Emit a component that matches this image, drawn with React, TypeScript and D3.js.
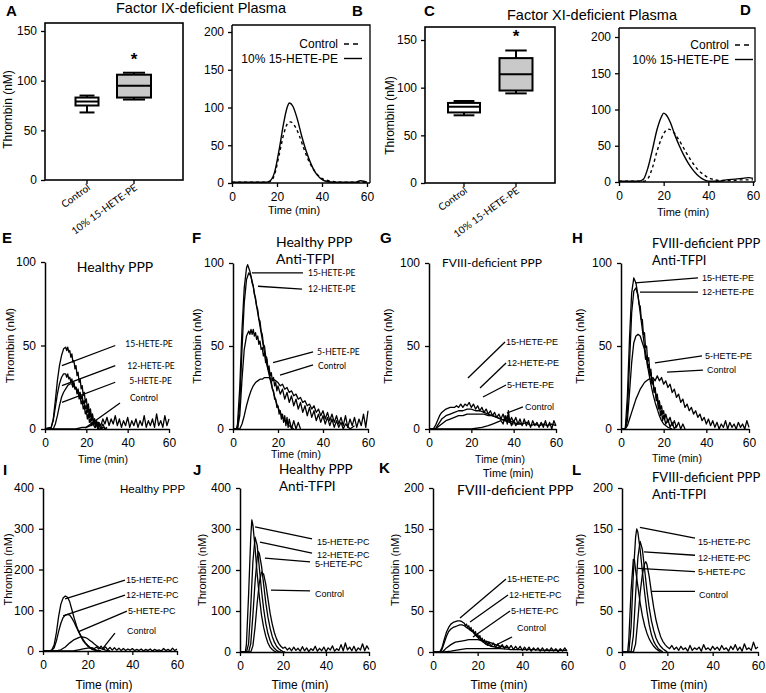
import { useEffect, useRef } from "react";
import * as d3 from "d3";

type Pt = [number, number];

const ARIAL = "'Liberation Sans', Arial, sans-serif";
const CAL = "Lato, 'Open Sans', sans-serif";

// ---------- data ----------
const timeTicks = [0, 20, 40, 60];
const ticks100 = [0, 50, 100];
const ticks150 = [0, 50, 100, 150];
const ticks200 = [0, 50, 100, 150, 200];
const ticks400 = [0, 100, 200, 300, 400];

const boxCategories = ["Control", "10% 15-HETE-PE"];
// [min, q1, median, q3, max] thrombin peak (nM)
const A_control = [68, 75, 79, 83, 85];
const A_hete = [81, 83, 95, 106, 108];
const C_control = [71, 74, 80, 84, 86];
const C_hete = [94, 97, 114, 131, 139];

const legendNames = ["Control", "10% 15-HETE-PE"];
const peNames = ["15-HETE-PE", "12-HETE-PE", "5-HETE-PE", "Control"];
const pcNames = ["15-HETE-PC", "12-HETE-PC", "5-HETE-PC", "Control"];

// B: factor IX-deficient plasma
const B_control: Pt[] = [[0,1],[15,1],[17,2],[19,12],[21,38],[23,65],[25,80],[26,81],[28,75],[30,62],[32,45],[34,30],[36,19],[38,11],[40,6],[42,4],[45,2],[50,1],[55,1],[60,1]];
const B_hete: Pt[] = [[0,1],[15,1],[17,3],[19,15],[21,45],[23,80],[24.5,100],[25.5,106],[27,102],[29,85],[31,62],[33,42],[35,26],[37,14],[39,7],[41,3],[45,1],[50,1],[55,1],[57,3],[59,2],[60,1]];
// D: factor XI-deficient plasma
const D_control: Pt[] = [[0,1],[11,1],[13,5],[15,20],[17,42],[19,60],[21,71],[22,73],[24,70],[26,62],[28,52],[30,41],[32,31],[34,22],[36,15],[38,10],[40,6],[43,3],[46,2],[50,2],[55,3],[60,3]];
const D_hete: Pt[] = [[0,1],[9,1],[11,4],[13,20],[15,45],[17,72],[19,90],[20,95],[21,93],[23,82],[25,65],[27,50],[29,37],[31,26],[33,17],[35,10],[37,5],[39,2],[41,1],[45,1],[48,3],[52,4],[55,5],[58,6],[60,5]];

// E: healthy PPP, HETE-PE
const E_15: Pt[] = [[0,0],[3,1],[4,6],[5,17],[6,29],[7,38],[8,44],[9,48],[10,49],[10.5,47],[11,49],[11.5,46],[12,47],[12.5,43],[13,45],[13.5,40],[14,41],[14.5,36],[15,38],[15.5,32],[16,34],[16.5,28],[17,30],[17.5,24],[18,26],[18.5,20],[19,22],[19.5,16],[20,18],[20.5,12],[21,15],[21.5,9],[22,12],[22.5,6],[23,9],[23.5,3],[24,6],[24.5,1],[25,4],[25.5,0],[26,3],[27,0],[28,1],[30,0]];
const E_12: Pt[] = [[0,0],[3,1],[4,5],[5,13],[6,21],[7,27],[8,31],[9,33],[10,33],[10.5,31],[11,33],[11.5,30],[12,31],[12.5,28],[13,30],[13.5,26],[14,28],[14.5,24],[15,25],[15.5,21],[16,23],[16.5,18],[17,20],[17.5,15],[18,17],[18.5,12],[19,14],[19.5,9],[20,11],[20.5,6],[21,9],[21.5,4],[22,6],[22.5,2],[23,4],[24,1],[25,3],[26,0],[28,0]];
const E_5: Pt[] = [[0,0],[4,0],[5,3],[6,8],[7,14],[8,19],[9,22],[10,24],[11,26],[12,27],[13,27],[13.5,25],[14,27],[14.5,24],[15,25],[15.5,22],[16,24],[16.5,20],[17,22],[17.5,18],[18,20],[18.5,15],[19,17],[19.5,12],[20,14],[20.5,10],[21,12],[21.5,7],[22,10],[22.5,5],[23,8],[23.5,3],[24,6],[24.5,2],[25,5],[25.5,1],[26,4],[27,0],[28,3],[29,0],[30,1]];
const E_control: Pt[] = [[0,0],[10,0],[15,0],[18,1],[20,1],[22,2],[24,3],[26,4],[27,2],[28,6],[29,3],[30,7],[31,2],[32,6],[33,3],[34,8],[35,2],[36,6],[37,1],[38,5],[39,2],[40,7],[41,1],[42,5],[43,2],[44,6],[45,1],[46,5],[47,2],[48,8],[49,1],[50,5],[51,2],[52,6],[53,1],[54,9],[55,2],[56,5],[57,1],[58,8],[59,2],[60,6]];

// F: healthy PPP + anti-TFPI, HETE-PE
const F_15: Pt[] = [[0,0],[1.5,0],[2,3],[3,25],[4,60],[5,85],[6,97],[6.5,99],[7,97],[7.5,95],[8,92],[8.5,88],[9,86],[9.5,81],[10,79],[10.5,74],[11,72],[11.5,66],[12,65],[12.5,59],[13,57],[13.5,51],[14,50],[14.5,44],[15,43],[15.5,37],[16,36],[16.5,30],[17,29],[17.5,24],[18,23],[18.5,18],[19,18],[19.5,13],[20,14],[20.5,9],[21,11],[21.5,6],[22,9],[22.5,4],[23,8],[23.5,2],[24,7],[24.5,1],[25,6],[26,0],[27,5],[28,0],[29,4],[30,0]];
const F_12: Pt[] = [[0,0],[2,0],[3,15],[4,48],[5,76],[6,90],[7,94],[8,92],[9,86],[10,78],[11,70],[12,62],[13,54],[14,46],[15,39],[16,33],[17,27],[18,22],[19,17],[20,13],[21,10],[22,7],[23,5],[25,2],[27,0]];
const F_5: Pt[] = [[0,0],[2,0],[3,8],[4,30],[5,48],[6,56],[7,59],[7.5,57],[8,60],[8.5,57],[9,60],[9.5,56],[10,58],[10.5,54],[11,56],[11.5,51],[12,53],[12.5,48],[13,49],[13.5,44],[14,46],[14.5,40],[15,42],[15.5,36],[16,38],[16.5,32],[17,34],[17.5,29],[18,31],[18.5,26],[19,28],[19.5,23],[20,26],[21,21],[22,24],[23,18],[24,22],[25,16],[26,20],[27,14],[28,18],[29,12],[30,16],[31,10],[32,14],[33,8],[34,13],[35,7],[36,11],[37,5],[38,9],[39,4],[40,8],[41,3],[42,7],[43,2],[44,6],[45,1],[46,5],[47,1],[48,4],[49,0],[50,3],[52,0],[54,2]];
const F_control: Pt[] = [[0,0],[3,0],[4,3],[5,8],[6,14],[7,19],[8,23],[9,26],[10,28],[11,29],[12,30],[13,30],[14,31],[15,31],[16,31],[17,30],[18,30],[19,29],[20,28],[21,26],[22,27],[23,24],[24,25],[25,22],[26,23],[27,20],[28,21],[29,18],[30,19],[31,16],[32,17],[33,14],[34,15],[35,12],[36,14],[37,10],[38,12],[39,8],[40,11],[41,6],[42,10],[43,5],[44,9],[45,4],[46,8],[47,3],[48,7],[49,2],[50,8],[51,1],[52,6],[53,2],[54,7],[55,1],[56,6],[57,2],[58,9],[59,1],[60,11]];

// G: FVIII-deficient PPP, HETE-PE
const G_15: Pt[] = [[0,0],[2,0],[3,2],[4,5],[5,8],[6,10],[7,11],[8,12],[10,13],[12,13],[13,14],[14,13],[15,15],[16,13],[17,15],[18,14],[19,16],[20,13],[21,15],[22,12],[23,14],[24,11],[25,13],[26,10],[27,12],[28,9],[29,11],[30,8],[31,10],[32,7],[33,9],[34,6],[35,9],[36,5],[37,8],[38,4],[39,7],[40,4],[41,7],[42,3],[43,6],[44,2],[45,6],[46,2],[47,5],[48,1],[49,5],[50,2],[51,4],[52,1],[53,4],[54,1],[55,5],[56,1],[57,4],[58,0],[59,5],[60,2]];
const G_12: Pt[] = [[0,0],[3,0],[4,2],[5,4],[6,6],[8,8],[10,9],[12,10],[14,11],[16,11],[18,12],[20,12],[22,11],[24,11],[26,10],[28,9],[30,8],[32,7],[34,6],[36,5],[38,4],[40,3]];
const G_5: Pt[] = [[0,0],[3,0],[4,1],[6,3],[8,5],[10,6],[12,7],[14,8],[16,8],[18,9],[20,9],[22,9],[24,9],[26,9],[28,8],[30,8],[32,7],[34,6],[36,5],[38,5],[40,4],[42,3],[44,3]];
const G_control: Pt[] = [[0,0],[10,0],[20,0],[25,1],[28,2],[30,3],[32,4],[34,5],[35,3],[36,8],[37,3],[37.5,11],[38,6],[39,2],[40,5],[41,2],[42,4],[44,3],[46,4],[48,2],[50,3],[52,2],[54,3],[56,2],[58,3],[60,2]];

// H: FVIII-deficient PPP + anti-TFPI, HETE-PE
const H_15: Pt[] = [[0,0],[2,0],[3,20],[4,55],[5,82],[6,91],[7,88],[8,80],[9,70],[10,60],[11,50],[12,42],[13,34],[14,27],[15,21],[16,16],[17,12],[18,8],[19,5],[20,3],[22,1],[24,0]];
const H_12: Pt[] = [[0,0],[2,0],[3,10],[4,40],[5,70],[6,83],[7,85],[8,80],[8.5,75],[9,74],[9.5,66],[10,66],[10.5,57],[11,58],[11.5,49],[12,50],[12.5,41],[13,43],[13.5,34],[14,36],[14.5,28],[15,30],[15.5,22],[16,24],[16.5,17],[17,19],[17.5,12],[18,15],[18.5,8],[19,11],[19.5,5],[20,8],[21,3],[22,6],[23,1],[24,4],[25,0],[26,2]];
const H_5: Pt[] = [[0,0],[2,0],[3,5],[4,22],[5,40],[6,52],[7,56],[8,57],[9,56],[10,52],[11,48],[11.5,42],[12,44],[12.5,37],[13,39],[13.5,32],[14,34],[14.5,27],[15,29],[15.5,23],[16,25],[16.5,19],[17,21],[17.5,15],[18,17],[18.5,12],[19,14],[19.5,9],[20,11],[20.5,6],[21,9],[22,4],[23,7],[24,2],[25,5],[26,1],[27,4],[28,0],[29,3],[30,0]];
const H_control: Pt[] = [[0,0],[2,0],[3,2],[4,6],[5,10],[6,14],[7,18],[8,21],[9,24],[10,26],[11,28],[12,29],[13,30],[14,30],[15,31],[16,29],[17,32],[18,29],[19,31],[20,27],[21,29],[22,25],[23,27],[24,22],[25,24],[26,19],[27,21],[28,16],[29,18],[30,13],[31,15],[32,11],[33,13],[34,9],[35,11],[36,7],[37,9],[38,5],[39,7],[40,3],[41,6],[42,2],[43,5],[44,1],[45,4],[46,0],[47,3],[48,1],[49,5],[50,0],[51,4],[52,1],[53,3],[54,0],[55,4],[56,1],[57,3],[58,0],[59,5],[60,1]];

// I: healthy PPP, HETE-PC
const I_15: Pt[] = [[0,0],[3,0],[4,3],[5,15],[6,45],[7,85],[8,115],[9,130],[10,135],[11,132],[12,120],[13,100],[14,80],[15,62],[16,47],[17,35],[18,25],[19,18],[20,12],[21,8],[22,4],[23,2],[25,0]];
const I_12: Pt[] = [[0,0],[3,0],[4,2],[5,8],[6,25],[7,48],[8,68],[9,82],[10,88],[11,90],[12,88],[13,80],[14,70],[15,58],[16,47],[17,37],[18,28],[19,20],[20,14],[21,9],[22,6],[24,2],[26,0]];
const I_5: Pt[] = [[0,0],[6,0],[8,3],[10,10],[12,20],[14,28],[16,33],[17,35],[18,34],[19,33],[20,30],[21,26],[22,22],[23,17],[24,13],[25,9],[26,6],[27,4],[28,2],[30,0]];
const I_control: Pt[] = [[0,0],[10,0],[14,1],[16,3],[18,5],[20,7],[22,8],[23,6],[24,10],[25,5],[26,12],[27,4],[28,10],[29,3],[30,9],[31,2],[32,8],[33,2],[34,7],[35,1],[36,6],[37,1],[38,5],[39,2],[40,6],[41,1],[42,4],[43,1],[44,5],[45,0],[46,4],[47,1],[48,5],[49,0],[50,4],[51,1],[52,3],[53,0],[54,6],[55,1],[56,4],[57,0],[58,7],[59,1],[60,5]];

// J: healthy PPP + anti-TFPI, HETE-PC
const J_15: Pt[] = [[0,0],[2.5,0],[3,20],[4,140],[5,280],[5.5,322],[6,310],[7,255],[8,190],[9,135],[10,90],[11,60],[12,38],[13,22],[14,12],[15,6],[16,2],[17,0]];
const J_12: Pt[] = [[0,0],[3,0],[4,20],[5,110],[6,220],[7,280],[8,260],[9,205],[10,150],[11,105],[12,70],[13,45],[14,28],[15,16],[16,9],[17,4],[18,1],[19,0]];
const J_5: Pt[] = [[0,0],[4,0],[5,20],[6,90],[7,170],[8,230],[8.5,245],[9,240],[10,210],[11,165],[12,120],[13,85],[14,58],[15,38],[16,24],[17,14],[18,8],[19,4],[20,1],[21,0]];
const J_control: Pt[] = [[0,0],[5,0],[6,15],[7,60],[8,120],[9,170],[10,195],[11,190],[12,165],[13,130],[14,95],[15,68],[16,47],[17,32],[18,21],[19,14],[20,9],[21,12],[22,5],[23,10],[24,3],[25,12],[26,4],[27,9],[28,2],[29,13],[30,3],[31,10],[32,1],[33,8],[34,4],[35,14],[36,2],[37,9],[38,3],[39,12],[40,1],[41,10],[42,5],[43,15],[44,2],[45,8],[46,4],[47,18],[48,3],[49,22],[50,5],[51,12],[52,3],[53,14],[54,2],[55,10],[56,5],[57,20],[58,3],[59,15],[60,6]];

// K: FVIII-deficient PPP, HETE-PC
const K_15: Pt[] = [[0,0],[3,0],[4,5],[5,15],[6,24],[7,30],[8,34],[9,36],[10,37],[11,38],[12,38],[13,37],[14,35],[14.5,32],[15,34],[15.5,30],[16,32],[16.5,27],[17,30],[17.5,25],[18,27],[18.5,22],[19,25],[19.5,19],[20,22],[20.5,17],[21,20],[21.5,14],[22,17],[22.5,12],[23,15],[23.5,10],[24,13],[24.5,8],[25,12],[26,7],[27,11],[28,6],[29,10],[30,5],[31,9],[32,4],[33,8],[34,4],[35,8],[36,3],[37,7],[38,3],[39,7],[40,2],[41,6],[42,2],[43,6],[44,1],[45,5],[46,2],[47,5],[48,1],[49,5],[50,1],[51,4],[52,1],[53,5],[54,1],[55,4],[56,0],[57,4],[58,1],[59,5],[60,1]];
const K_12: Pt[] = [[0,0],[3,0],[4,3],[5,11],[6,19],[7,25],[8,28],[9,30],[10,31],[11,32],[12,33],[13,33],[14,32],[15,30],[16,28],[17,26],[18,24],[19,21],[20,18],[21,15],[22,13],[23,11],[24,9],[25,8],[26,7],[28,6],[30,5]];
const K_5: Pt[] = [[0,0],[4,0],[5,2],[6,5],[8,9],[10,12],[12,13],[14,14],[16,15],[18,15],[20,15],[22,14],[24,13],[26,11],[28,9],[30,7],[32,6],[34,5]];
const K_control: Pt[] = [[0,0],[5,0],[8,1],[10,2],[12,3],[15,4],[20,4],[25,4],[30,4],[35,3],[40,3],[45,3],[50,2],[55,2],[60,2]];

// L: FVIII-deficient PPP + anti-TFPI, HETE-PC
const L_15: Pt[] = [[0,0],[3,0],[4,30],[5,95],[6,140],[6.5,150],[7,146],[8,125],[9,98],[10,72],[11,50],[12,33],[13,21],[14,13],[15,8],[16,4],[17,2],[18,0]];
const L_12: Pt[] = [[0,0],[4,0],[5,20],[6,70],[7,115],[8,135],[9,125],[10,100],[11,75],[12,54],[13,38],[14,26],[15,17],[16,11],[17,7],[18,4],[19,2],[20,0]];
const L_5: Pt[] = [[0,0],[2.5,0],[3,15],[4,75],[5,113],[5.5,112],[6,100],[7,80],[8,60],[9,44],[10,32],[11,23],[12,16],[13,11],[14,7],[15,4],[16,2],[17,0]];
const L_control: Pt[] = [[0,0],[5,0],[6,10],[7,40],[8,72],[9,95],[10,108],[10.5,110],[11,107],[12,92],[13,72],[14,54],[15,39],[16,28],[17,19],[18,13],[19,9],[20,6],[21,4],[22,8],[23,3],[24,6],[25,2],[26,7],[27,3],[28,5],[29,1],[30,8],[31,2],[32,5],[33,3],[34,6],[35,1],[36,9],[37,3],[38,5],[39,2],[40,7],[41,3],[42,6],[43,2],[44,8],[45,3],[46,5],[47,1],[48,7],[49,3],[50,9],[51,2],[52,6],[53,1],[54,10],[55,3],[56,5],[57,2],[58,12],[59,4],[60,6]];

// ---------- layout ----------
const boxPanels = [
  { letter: "A", lx: 6, ly: 16, left: 45, right: 183, top: 23, base: 180, yTop: 31, yMax: 150, cats: [87, 134], widths: [23, 34],
    boxes: [A_control, A_hete], title: "Factor IX-deficient Plasma", tx: 201, ty: 13, yTitleX: 8 },
  { letter: "C", lx: 424, ly: 16, left: 425, right: 555, top: 27, base: 183, yTop: 40, yMax: 150, cats: [464, 516], widths: [32, 33],
    boxes: [C_control, C_hete], title: "Factor XI-deficient Plasma", tx: 592, ty: 20, yTitleX: 390 },
];

const legendPanels = [
  { letter: "B", lx: 352, ly: 16, x0: 232, x1: 367, right: 370, top: 25, base: 183, yTop: 32, curves: [B_control, B_hete], legX: 338, legY: 44, timeX: 294, timeY: 214 },
  { letter: "D", lx: 740, ly: 15, x0: 619, x1: 753, right: 755, top: 28, base: 182, yTop: 37, curves: [D_control, D_hete], legX: 729, legY: 45, timeX: 683, timeY: 216 },
];

const tracePanels = [
  { letter: "E", lx: 2, ly: 243, x0: 45, x1: 169, base: 429, yTop: 262, yMax: 100, yTicks: ticks100, curves: [E_15, E_12, E_5, E_control], names: peNames,
    from: [[8.2, 38], [8.2, 26], [8.2, 16], [19.4, 0.6]], to: [[34, 50], [34, 38], [34, 28], [36.3, 15.6]], shift: [[10, -2], [12, 0], [14, -1], [10, -5]],
    labFont: CAL, labSize: 8.5, title: ["Healthy PPP"], tX: 115, tY: 272, tAnchor: "middle", tFont: CAL, tSize: 14, yTitleX: 10, yTitleSize: 11.5, timeX: 103, timeY: 463, timeSize: 10.5 },
  { letter: "F", lx: 192, ly: 243, x0: 233, x1: 368, base: 429, yTop: 263, yMax: 100, yTicks: ticks100, curves: [F_15, F_12, F_5, F_control], names: peNames,
    from: [[8.4, 94], [11.1, 86], [17.8, 40], [20.9, 32.5]], to: [[31.1, 94], [30.7, 84.3], [35.6, 46.4], [35.6, 38.6]], shift: [[5, 0], [6, 0], [4, 0], [5, 1]],
    labFont: CAL, labSize: 8.5, title: ["Healthy PPP", "Anti-TFPI"], tX: 276, tY: 247, tAnchor: "start", tFont: CAL, tSize: 14, yTitleX: 197, yTitleSize: 11.5, timeX: 296, timeY: 458, timeSize: 10.5 },
  { letter: "G", lx: 380, ly: 243, x0: 429, x1: 556, base: 429, yTop: 263, yMax: 100, yTicks: ticks100, curves: [G_15, G_12, G_5, G_control], names: peNames,
    from: [[18.4, 30.7], [24.1, 24.7], [25.5, 19.3], [36.8, 9.6]], to: [[35.9, 52.4], [36.4, 39.8], [36.4, 26.5], [44.4, 13.3]], shift: [[1, 0], [1, 0], [1, 0], [2, 0]],
    labFont: ARIAL, labSize: 9, title: ["FVIII-deficient PPP"], tX: 442, tY: 267, tAnchor: "start", tFont: CAL, tSize: 12, yTitleX: 388, yTitleSize: 11.5, timeX: 500, timeY: 463, timeSize: 10.5 },
  { letter: "H", lx: 572, ly: 243, x0: 621, x1: 749, base: 429, yTop: 263, yMax: 100, yTicks: ticks100, curves: [H_15, H_12, H_5, H_control], names: peNames,
    from: [[6.6, 88], [8.9, 82.5], [15.9, 39.8], [21.6, 34.3]], to: [[36.1, 91], [36.1, 82.5], [38, 44], [38.4, 35.5]], shift: [[4, 0], [4, 0], [3, 0], [4, 0]],
    labFont: ARIAL, labSize: 9, title: ["FVIII-deficient PPP", "Anti-TFPI"], tX: 652, tY: 248, tAnchor: "start", tFont: CAL, tSize: 13, yTitleX: 580, yTitleSize: 11.5, timeX: 677, timeY: 462, timeSize: 10.5 },
  { letter: "I", lx: 3, ly: 475, x0: 43, x1: 177, base: 651, yTop: 488, yMax: 400, yTicks: ticks400, curves: [I_15, I_12, I_5, I_control], names: pcNames,
    from: [[9.9, 128], [9.0, 86], [15.7, 47], [26.9, 7]], to: [[36.7, 174], [36.7, 137], [37.6, 98], [32.2, 44]], shift: [[1, 0], [1, 0], [1, 0], [12, -2]],
    labFont: ARIAL, labSize: 9, title: ["Healthy PPP"], tX: 120, tY: 493, tAnchor: "start", tFont: ARIAL, tSize: 11.5, yTitleX: 8, yTitleSize: 11, timeX: 104, timeY: 689, timeSize: 12 },
  { letter: "J", lx: 193, ly: 475, x0: 240, x1: 369, base: 652, yTop: 488, yMax: 400, yTicks: ticks400, curves: [J_15, J_12, J_5, J_control], names: pcNames,
    from: [[7.0, 305], [9.3, 268], [11.6, 229], [14.4, 151]], to: [[33.5, 276], [33.5, 241], [32.6, 220], [32.6, 149]], shift: [[5, 3], [5, 2], [5, 2], [5, 3]],
    labFont: ARIAL, labSize: 9, title: ["Healthy PPP", "Anti-TFPI"], tX: 279, tY: 474, tAnchor: "start", tFont: CAL, tSize: 13.5, yTitleX: 202, yTitleSize: 11, timeX: 300, timeY: 689, timeSize: 12 },
  { letter: "K", lx: 379, ly: 473, x0: 433, x1: 567, base: 652, yTop: 488, yMax: 200, yTicks: ticks200, curves: [K_15, K_12, K_5, K_control], names: pcNames,
    from: [[12.1, 41.5], [16.6, 36.6], [17.9, 18.3], [29.1, 9.8]], to: [[32.7, 89], [33.6, 69.5], [34.5, 50], [35.4, 18.3]], shift: [[1, 0], [1, 0], [1, 0], [5, -9]],
    labFont: ARIAL, labSize: 9, title: ["FVIII-deficient PPP"], tX: 457, tY: 495, tAnchor: "start", tFont: CAL, tSize: 14, yTitleX: 395, yTitleSize: 11, timeX: 499, timeY: 689, timeSize: 12 },
  { letter: "L", lx: 572, ly: 475, x0: 622, x1: 758, base: 652, yTop: 488, yMax: 200, yTicks: ticks200, curves: [L_15, L_12, L_5, L_control], names: pcNames,
    from: [[7.9, 152], [9.7, 122], [7.1, 102], [13.2, 74]], to: [[32.2, 139], [32.2, 118], [32.2, 98], [32.2, 74]], shift: [[3, 4], [3, 3], [3, 0], [4, 4]],
    labFont: ARIAL, labSize: 9, title: ["FVIII-deficient PPP", "Anti-TFPI"], tX: 652, tY: 482, tAnchor: "start", tFont: CAL, tSize: 13, yTitleX: 580, yTitleSize: 11, timeX: 679, timeY: 689, timeSize: 12 },
];

// stray axis label sitting above panel K in the original figure
const strayTime = { x: 508, y: 477 };

type Sel = d3.Selection<any, unknown, null, undefined>;

function styleAxis(g: Sel) {
  g.select(".domain").attr("stroke", "#000").attr("stroke-width", 1.5);
  g.selectAll(".tick line").attr("stroke", "#000").attr("stroke-width", 1.3);
  g.selectAll(".tick text").attr("fill", "#000").style("font-family", ARIAL).style("font-size", "12px");
}

function addText(g: Sel, x: number, y: number, s: string, font: string, size: number, anchor = "start", weight = "normal") {
  return g.append("text").attr("x", x).attr("y", y).attr("text-anchor", anchor)
    .style("font-family", font).style("font-size", size + "px").style("font-weight", weight).attr("fill", "#000").text(s);
}

function yTitle(g: Sel, x: number, y: number, size: number) {
  g.append("text").attr("transform", `translate(${x},${y}) rotate(-90)`).attr("text-anchor", "middle")
    .attr("dominant-baseline", "central").style("font-family", ARIAL).style("font-size", size + "px").text("Thrombin (nM)");
}

function drawBoxPanel(svg: Sel, p: typeof boxPanels[number]) {
  const g = svg.append("g");
  const y = d3.scaleLinear().domain([0, p.yMax]).range([p.base, p.yTop]);
  const x = d3.scalePoint<string>().domain(boxCategories).range(p.cats as [number, number]);

  g.append("rect").attr("x", p.left).attr("y", p.top).attr("width", p.right - p.left).attr("height", p.base - p.top)
    .attr("fill", "none").attr("stroke", "#000").attr("stroke-width", 1.6);
  const ga = g.append("g").attr("transform", `translate(${p.left},0)`)
    .call(d3.axisLeft(y).tickValues(ticks150).tickSize(4).tickPadding(4).tickSizeOuter(0));
  styleAxis(ga);
  ga.select(".domain").remove();

  boxCategories.forEach((c, i) => {
    const cx = x(c)!;
    g.append("line").attr("x1", cx).attr("x2", cx).attr("y1", p.base).attr("y2", p.base + 4).attr("stroke", "#000").attr("stroke-width", 1.3);
    g.append("text").attr("transform", `translate(${cx + 4},${p.base + 9}) rotate(-36)`).attr("text-anchor", "end")
      .style("font-family", CAL).style("font-size", "10px").text(c);

    const [mn, q1, md, q3, mx] = p.boxes[i];
    const w = p.widths[i];
    const cap = w * 0.65;
    const bg = g.append("g").attr("stroke", "#000").attr("stroke-width", 2);
    bg.append("line").attr("x1", cx).attr("x2", cx).attr("y1", y(mx)).attr("y2", y(q3));
    bg.append("line").attr("x1", cx).attr("x2", cx).attr("y1", y(q1)).attr("y2", y(mn));
    bg.append("line").attr("x1", cx - cap / 2).attr("x2", cx + cap / 2).attr("y1", y(mx)).attr("y2", y(mx));
    bg.append("line").attr("x1", cx - cap / 2).attr("x2", cx + cap / 2).attr("y1", y(mn)).attr("y2", y(mn));
    bg.append("rect").attr("x", cx - w / 2).attr("y", y(q3)).attr("width", w).attr("height", y(q1) - y(q3))
      .attr("fill", i === 0 ? "#fff" : "#c9c9c9");
    bg.append("line").attr("x1", cx - w / 2).attr("x2", cx + w / 2).attr("y1", y(md)).attr("y2", y(md));
    if (i === 1) addText(g, cx, y(mx) - 8, "*", ARIAL, 17, "middle", "bold");
  });

  yTitle(g, p.yTitleX, (p.base + p.yTop) / 2 + 4, 12);
  addText(g, p.tx, p.ty, p.title, ARIAL, 14.5, "middle");
  addText(g, p.lx, p.ly, p.letter, ARIAL, 15, "start", "bold");
}

function drawLegendPanel(svg: Sel, p: typeof legendPanels[number]) {
  const g = svg.append("g");
  const x = d3.scaleLinear().domain([0, 60]).range([p.x0, p.x1]);
  const y = d3.scaleLinear().domain([0, 200]).range([p.base, p.yTop]);
  g.append("path").attr("d", `M${p.x0},${p.top}H${p.right}V${p.base}`).attr("fill", "none").attr("stroke", "#000").attr("stroke-width", 1.3);
  const gy = g.append("g").attr("transform", `translate(${p.x0},0)`)
    .call(d3.axisLeft(y).tickValues(ticks200).tickSize(4).tickPadding(4).tickSizeOuter(0));
  styleAxis(gy);
  gy.select(".domain").attr("d", `M0,${p.base}V${p.top}`);
  const gx = g.append("g").attr("transform", `translate(0,${p.base})`)
    .call(d3.axisBottom(x).tickValues(timeTicks).tickSize(4).tickPadding(5).tickSizeOuter(0));
  styleAxis(gx);
  gx.select(".domain").attr("d", `M${p.x0},0H${p.right}`);

  const line = d3.line<Pt>().x(d => x(d[0])).y(d => y(d[1])).curve(d3.curveMonotoneX);
  p.curves.forEach((c, i) => {
    g.append("path").attr("d", line(c)!).attr("fill", "none").attr("stroke", "#000").attr("stroke-width", 1.4)
      .attr("stroke-dasharray", i === 0 ? "3,3" : null);
  });
  legendNames.forEach((n, i) => {
    const ly = p.legY + i * 14.5;
    addText(g, p.legX, ly + 4, n, ARIAL, 12, "end");
    g.append("line").attr("x1", p.legX + 6).attr("x2", p.legX + 24).attr("y1", ly).attr("y2", ly)
      .attr("stroke", "#000").attr("stroke-width", 1.4).attr("stroke-dasharray", i === 0 ? "5,4" : null);
  });
  addText(g, p.timeX, p.timeY, "Time (min)", ARIAL, 11, "middle");
  addText(g, p.lx, p.ly, p.letter, ARIAL, 15, "start", "bold");
}

function drawTracePanel(svg: Sel, p: typeof tracePanels[number]) {
  const g = svg.append("g");
  const x = d3.scaleLinear().domain([0, 60]).range([p.x0, p.x1]);
  const y = d3.scaleLinear().domain([0, p.yMax]).range([p.base, p.yTop]);

  const line = d3.line<Pt>().x(d => x(d[0])).y(d => y(d[1]));
  p.curves.forEach(c => {
    g.append("path").attr("d", line(c)!).attr("fill", "none").attr("stroke", "#000")
      .attr("stroke-width", 1.3).attr("stroke-linejoin", "round");
  });

  const gy = g.append("g").attr("transform", `translate(${p.x0},0)`)
    .call(d3.axisLeft(y).tickValues(p.yTicks).tickSize(4).tickPadding(5).tickSizeOuter(0));
  styleAxis(gy);
  const gx = g.append("g").attr("transform", `translate(0,${p.base})`)
    .call(d3.axisBottom(x).tickValues(timeTicks).tickSize(4).tickPadding(5).tickSizeOuter(0));
  styleAxis(gx);

  p.names.forEach((n, i) => {
    const [t0, v0] = p.from[i];
    const [t1, v1] = p.to[i];
    g.append("line").attr("x1", x(t0)).attr("y1", y(v0)).attr("x2", x(t1)).attr("y2", y(v1))
      .attr("stroke", "#000").attr("stroke-width", 1.3);
    g.append("text").attr("x", x(t1) + p.shift[i][0]).attr("y", y(v1) + p.shift[i][1])
      .attr("dominant-baseline", "central").style("font-family", p.labFont).style("font-size", p.labSize + "px").text(n);
  });

  p.title.forEach((s, i) => addText(g, p.tX, p.tY + i * 17, s, p.tFont, p.tSize, p.tAnchor));
  yTitle(g, p.yTitleX, (p.base + p.yTop) / 2, p.yTitleSize);
  addText(g, p.timeX, p.timeY, "Time (min)", ARIAL, p.timeSize, "middle");
  addText(g, p.lx, p.ly, p.letter, ARIAL, 15, "start", "bold");
}

export default function App() {
  const ref = useRef<SVGSVGElement>(null);

  useEffect(() => {
    if (!ref.current) return;
    const svg = d3.select(ref.current) as unknown as Sel;
    svg.selectAll("*").remove();
    boxPanels.forEach(p => drawBoxPanel(svg, p));
    legendPanels.forEach(p => drawLegendPanel(svg, p));
    tracePanels.forEach(p => drawTracePanel(svg, p));
    addText(svg, strayTime.x, strayTime.y, "Time (min)", CAL, 11, "middle");
  }, []);

  return (
    <svg ref={ref} width={766} height={693}
      style={{ position: "absolute", left: 0, top: 0, background: "#fff" }} />
  );
}
